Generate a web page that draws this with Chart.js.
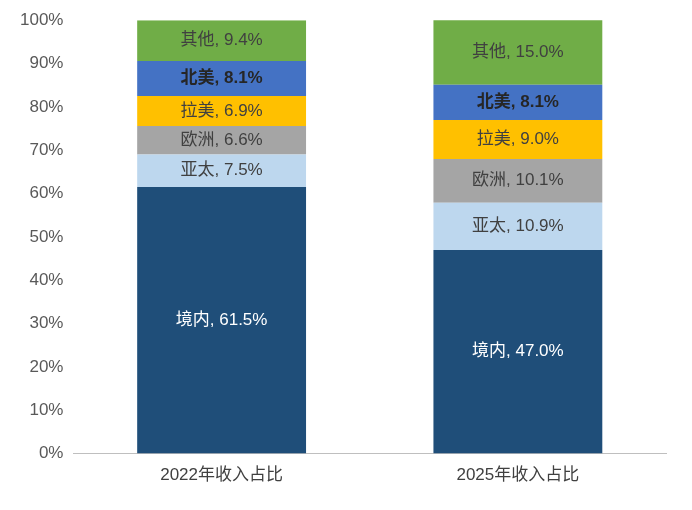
<!DOCTYPE html>
<html><head><meta charset="utf-8">
<script src="https://cdn.jsdelivr.net/npm/chart.js@4"></script>
<style>html,body{margin:0;background:#fff}#w{width:692px;height:510px}</style>
</head><body><div id="w"><canvas id="c"></canvas></div>
<script>
const categories = ["2022年收入占比", "2025年收入占比"];
const seriesNames = ["境内", "亚太", "欧洲", "拉美", "北美", "其他"];
const domestic = [61.5, 47.0];
const apac = [7.5, 10.9];
const europe = [6.6, 10.1];
const latam = [6.9, 9.0];
const namerica = [8.1, 8.1];
const other = [9.4, 15.0];
const yTicks = [0,10,20,30,40,50,60,70,80,90,100];
const colors = ["#1F4E79","#BDD7EE","#A5A5A5","#FFC000","#4472C4","#70AD47"];
const textColors = ["#ffffff","#404040","#404040","#404040","#262626","#404040"];
const allValues = [domestic, apac, europe, latam, namerica, other];

const labelPlugin = {
  id: 'lbl',
  afterDatasetsDraw(chart) {
    const ctx = chart.ctx;
    chart.data.datasets.forEach((ds, i) => {
      chart.getDatasetMeta(i).data.forEach((bar, j) => {
        const y = (bar.y + bar.base) / 2;
        ctx.save();
        ctx.fillStyle = textColors[i];
        ctx.font = (i === 4 ? 'bold ' : '') + '17px "Liberation Sans", "Noto Sans CJK SC", sans-serif';
        ctx.textAlign = 'center'; ctx.textBaseline = 'middle';
        ctx.fillText(seriesNames[i] + ', ' + ds.data[j].toFixed(1) + '%', bar.x, y);
        ctx.restore();
      });
    });
  }
};

new Chart(document.getElementById('c'), {
  type: 'bar',
  data: {
    labels: categories,
    datasets: seriesNames.map((n, i) => ({
      label: n, data: allValues[i], backgroundColor: colors[i],
      categoryPercentage: 1.0, barPercentage: 0.57
    }))
  },
  options: {
    responsive: true, maintainAspectRatio: false, animation: false,
    layout: { padding: { top: 14, right: 26, left: 10, bottom: 12 } },
    plugins: { legend: { display: false }, tooltip: { enabled: false } },
    scales: {
      x: { stacked: true, grid: { display: false, drawTicks: false },
           border: { color: '#BFBFBF' },
           ticks: { color: '#404040', padding: 12, font: { size: 17, family: '"Liberation Sans", "Noto Sans CJK SC", sans-serif' } } },
      y: { stacked: true, min: 0, max: 100,
           afterBuildTicks: (ax) => { ax.ticks = yTicks.map(v => ({ value: v })); },
           grid: { display: false, drawTicks: false }, border: { display: false },
           ticks: { color: '#595959', padding: 10, callback: v => v + '%',
                    font: { size: 17, family: '"Liberation Sans", sans-serif' } } }
    }
  },
  plugins: [labelPlugin]
});
</script></body></html>
